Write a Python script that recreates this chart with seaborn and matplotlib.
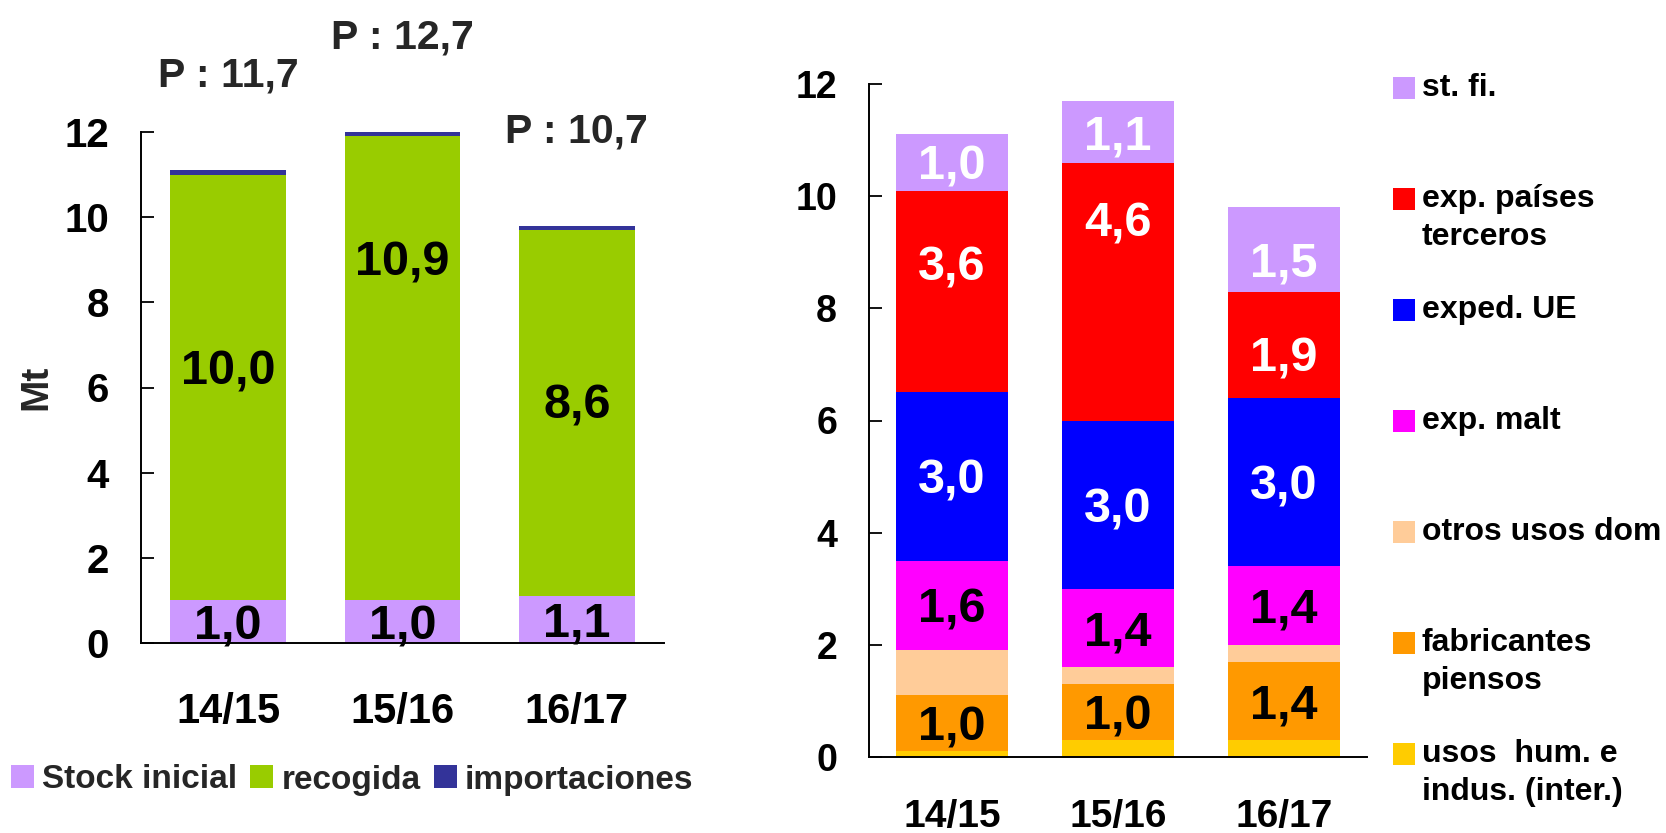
import numpy as np
import pandas as pd
import matplotlib.pyplot as plt
import seaborn as sns
from matplotlib.patches import Patch, Rectangle

sns.set_style("white")
plt.rcParams["font.family"] = ["Liberation Sans", "DejaVu Sans"]
plt.rcParams["font.weight"] = "bold"

seasons = ["14/15", "15/16", "16/17"]

# left chart: supply (Mt)
stock_inicial = [1.0, 1.0, 1.1]
recogida = [10.0, 10.9, 8.6]
importaciones = [0.1, 0.1, 0.1]
produccion = [11.7, 12.7, 10.7]

# right chart: uses (Mt), bottom to top
usos_hum = [0.1, 0.3, 0.3]
fabricantes = [1.0, 1.0, 1.4]
otros_usos = [0.8, 0.3, 0.3]
exp_malt = [1.6, 1.4, 1.4]
exped_ue = [3.0, 3.0, 3.0]
exp_paises = [3.6, 4.6, 1.9]
st_fi = [1.0, 1.1, 1.5]

W, H = 1666, 833
fig = plt.figure(figsize=(W / 100, H / 100), dpi=100)


def fx(px):
    return px / W


def fy(px):
    return 1 - px / H


def fmt(v):
    return f"{v:.1f}".replace(".", ",")


def stacked(ax, layers, width, label_size, nudges):
    df = pd.DataFrame({"season": seasons})
    bottom = np.zeros(len(seasons))
    for name, values, color, txt_color in layers:
        df[name + "_bottom"] = bottom
        bottom = bottom + np.array(values)
        df[name + "_top"] = bottom
    # draw tallest cumulative layer first so lower layers sit on top of it
    for name, values, color, txt_color in reversed(layers):
        sns.barplot(data=df, x="season", y=name + "_top", color=color,
                    saturation=1, width=width, linewidth=0, errorbar=None,
                    order=seasons, ax=ax)
    for name, values, color, txt_color in layers:
        if txt_color is None:
            continue
        for i, v in enumerate(values):
            y = df[name + "_bottom"][i] + v / 2 + nudges.get((name, i), 0)
            ax.annotate(fmt(v), xy=(i, y), xytext=(0, -0.358 * label_size),
                        textcoords="offset points", ha="center", va="baseline",
                        fontsize=label_size, color=txt_color, fontweight="bold")
    return df


def style_axes(ax, ysize, xsize, xpad):
    ax.set_xlim(-0.5, 2.5)
    ax.set_ylim(0, 12)
    ax.set_yticks(range(0, 13, 2))
    ax.set_xlabel("")
    ax.set_ylabel("")
    sns.despine(ax=ax)
    for side in ["left", "bottom"]:
        ax.spines[side].set_color("black")
        ax.spines[side].set_linewidth(1.4)
    ax.tick_params(axis="y", direction="in", length=9, width=1.3,
                   labelsize=ysize, pad=23, left=True, colors="black")
    ax.tick_params(axis="x", length=0, pad=xpad, labelsize=xsize, colors="black")
    for lab in ax.get_xticklabels() + ax.get_yticklabels():
        lab.set_fontweight("bold")


# left chart
ax1 = fig.add_axes([fx(141), fy(643), fx(664) - fx(141), fy(132) - fy(643)])
left_layers = [
    ("stock", stock_inicial, "#CC99FF", "black"),
    ("recogida", recogida, "#99CC00", "black"),
    ("importaciones", importaciones, "#333399", None),
]
left_nudges = {("recogida", 0): 0.47, ("recogida", 1): 2.6, ("recogida", 2): 0.28}
df1 = stacked(ax1, left_layers, 0.665, 35, left_nudges)
style_axes(ax1, 29, 30, 35)

for i, p in enumerate(produccion):
    ax1.annotate(f"P : {fmt(p)}", xy=(i, df1["importaciones_top"][i]),
                 xytext=(0, 60), textcoords="offset points", ha="center",
                 va="baseline", fontsize=29.5, fontweight="bold",
                 annotation_clip=False)

ax1.set_ylabel("Mt", fontsize=28, fontweight="bold")
ax1.yaxis.set_label_coords(-0.166, 0.5)

handles = [Patch(facecolor=c, edgecolor="none", label=lab)
           for lab, c in [("Stock inicial", "#CC99FF"), ("recogida", "#99CC00"),
                          ("importaciones", "#333399")]]
fig.legend(handles=handles, loc="center left", bbox_to_anchor=(fx(11), fy(780)),
           ncol=3, frameon=False, borderpad=0, borderaxespad=0,
           handlelength=0.69, handleheight=0.69, handletextpad=0.24,
           columnspacing=0.4, prop={"weight": "bold", "size": 24})

# right chart
ax2 = fig.add_axes([fx(869), fy(757), fx(1367) - fx(869), fy(84) - fy(757)])
right_layers = [
    ("usos_hum", usos_hum, "#FFCC00", None),
    ("fabricantes", fabricantes, "#FF9900", "black"),
    ("otros_usos", otros_usos, "#FFCC99", None),
    ("exp_malt", exp_malt, "#FF00FF", "black"),
    ("exped_ue", exped_ue, "#0000FF", "white"),
    ("exp_paises", exp_paises, "#FF0000", "white"),
    ("st_fi", st_fi, "#CC99FF", "white"),
]
right_nudges = {("exp_paises", 0): 0.5, ("exp_paises", 1): 1.3,
                ("exp_paises", 2): -0.16, ("st_fi", 2): -0.17}
stacked(ax2, right_layers, 0.675, 35, right_nudges)
style_axes(ax2, 27, 28, 30)

legend_labels = ["st. fi.", "exp. países\nterceros", "exped. UE", "exp. malt",
                 "otros usos dom", "fabricantes\npiensos",
                 "usos  hum. e\nindus. (inter.)"]
legend_colors = ["#CC99FF", "#FF0000", "#0000FF", "#FF00FF", "#FFCC99",
                 "#FF9900", "#FFCC00"]
for k, (lab, col) in enumerate(zip(legend_labels, legend_colors)):
    yc = 88 + k * 111
    fig.patches.append(Rectangle((fx(1393), fy(yc + 11)), fx(22), 22 / H,
                                 transform=fig.transFigure, facecolor=col,
                                 edgecolor="none"))
    for j, line in enumerate(lab.split("\n")):
        fig.text(fx(1422), fy(yc + j * 38), line, ha="left", va="center",
                 fontsize=23, fontweight="bold", color="black")

fig.savefig("out.png", dpi=100)
